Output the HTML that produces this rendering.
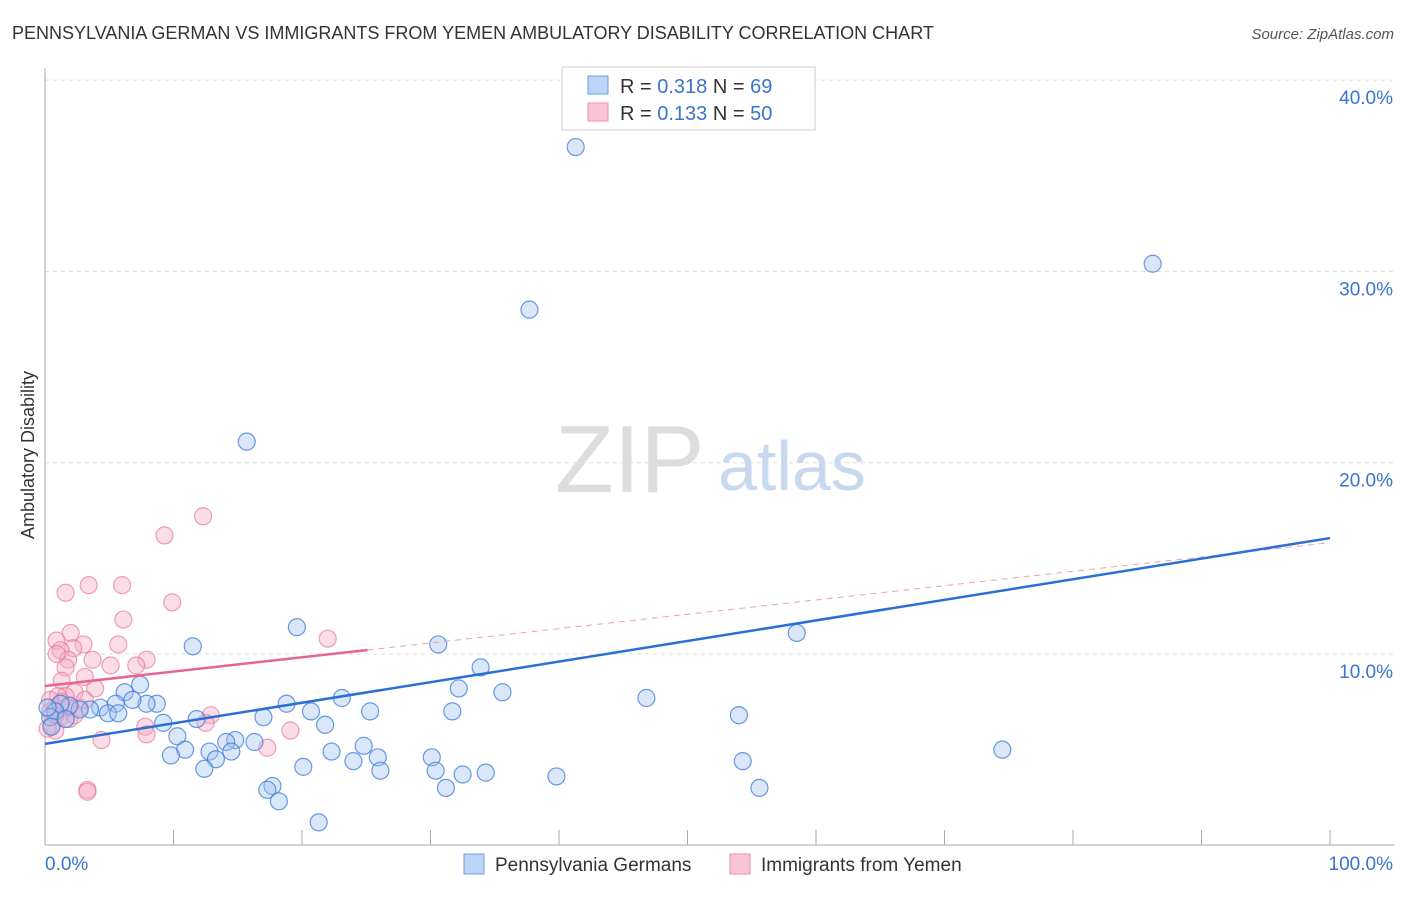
<!DOCTYPE html>
<html><head><meta charset="utf-8"><style>
body{margin:0;background:#fff;font-family:"Liberation Sans",sans-serif;}
svg text{font-family:"Liberation Sans",sans-serif;}
</style></head><body>
<svg width="1406" height="892">
<text x="12" y="39" font-size="18" fill="#333">PENNSYLVANIA GERMAN VS IMMIGRANTS FROM YEMEN AMBULATORY DISABILITY CORRELATION CHART</text>
<text x="1394" y="39" font-size="15" fill="#555" font-style="italic" text-anchor="end">Source: ZipAtlas.com</text>
<g id="grid"></g>
<g id="axes"></g>
<text x="555" y="492" font-size="96" fill="#ddd" font-family="Liberation Serif">ZIP</text>
<text x="718" y="490" font-size="70" fill="#c8d9ef">atlas</text>
<g id="pts"></g>
<g id="trend"></g>
<text transform="translate(34,455) rotate(-90)" font-size="18" fill="#333" text-anchor="middle">Ambulatory Disability</text>
<g>
<rect x="562" y="67" width="253" height="63" fill="#fff" stroke="#ccc"/>
<rect x="588" y="76" width="20" height="18" fill="#bcd4f5" stroke="#6a9be0"/>
<rect x="588" y="103" width="20" height="18" fill="#f9c5d5" stroke="#ea92b0"/>
<text x="620" y="93" font-size="20" fill="#333">R = <tspan fill="#3a73d0">0.318</tspan>   N = <tspan fill="#3a73d0">69</tspan></text>
<text x="620" y="120" font-size="20" fill="#333">R = <tspan fill="#3a73d0">0.133</tspan>   N = <tspan fill="#3a73d0">50</tspan></text>
</g>
<g>
<rect x="464" y="854" width="20" height="20" fill="#bcd4f5" stroke="#6a9be0"/>
<text x="495" y="871" font-size="19" fill="#333">Pennsylvania Germans</text>
<rect x="730" y="854" width="20" height="20" fill="#f9c5d5" stroke="#ea92b0"/>
<text x="761" y="871" font-size="19" fill="#333">Immigrants from Yemen</text>
</g>
</svg>
<script>
const yTicks=[10,20,30,40];
const blueX=[41.3,86.2,37.7,15.7,58.5,19.6,30.6,33.9,32.2,35.6,46.8,54.0,11.5,7.4,6.2,8.7,7.9,6.8,5.5,4.3,3.5,2.7,1.9,1.2,0.8,4.9,5.7,18.8,23.1,25.3,20.7,17.0,31.7,11.8,9.2,10.3,14.8,14.1,16.3,21.8,24.8,22.3,12.8,14.5,10.9,9.8,25.9,24.0,30.1,13.3,12.4,20.1,26.1,30.4,32.5,34.3,39.8,54.3,74.5,17.7,17.3,18.2,31.2,55.6,21.3,0.4,0.5,1.6,0.2];
const blueY=[36.5,30.4,28.0,21.1,11.1,11.4,10.5,9.3,8.2,8.0,7.7,6.8,10.4,8.4,8.0,7.4,7.4,7.6,7.4,7.2,7.1,7.1,7.3,7.4,7.0,6.9,6.9,7.4,7.7,7.0,7.0,6.7,7.0,6.6,6.4,5.7,5.5,5.4,5.4,6.3,5.2,4.9,4.9,4.9,5.0,4.7,4.6,4.4,4.6,4.5,4.0,4.1,3.9,3.9,3.7,3.8,3.6,4.4,5.0,3.1,2.9,2.3,3.0,3.0,1.2,6.7,6.2,6.6,7.2];
const pinkX=[12.3,9.3,3.4,6.0,1.6,9.9,6.1,2.0,22.0,0.9,3.0,5.7,2.2,1.2,1.8,7.9,7.1,5.1,1.6,3.1,1.3,3.9,2.3,1.6,0.8,0.4,1.2,1.9,0.5,0.8,0.2,12.9,12.5,7.8,7.9,19.1,4.4,17.3,3.3,3.3,1.0,2.7,1.3,2.3,0.8,0.4,1.8,3.1,0.9,3.7];
const pinkY=[17.2,16.2,13.6,13.6,13.2,12.7,11.8,11.1,10.8,10.7,10.5,10.5,10.3,10.2,9.7,9.7,9.4,9.4,9.3,8.8,8.6,8.2,8.0,7.8,7.2,7.0,6.7,6.6,6.3,6.0,6.1,6.8,6.4,6.2,5.8,6.0,5.5,5.1,2.9,2.8,7.8,7.2,7.5,6.8,6.8,7.6,7.2,7.6,10.0,9.7];
const blueTrend=[5.3,16.06];
const pinkTrend=[8.33,0.0749];
const pinkSolidEnd=25.1;
const NS="http://www.w3.org/2000/svg";
const X=v=>45+v*12.85, Y=v=>845.3-v*19.13;
function mk(t,a,p){const e=document.createElementNS(NS,t);for(const k in a)e.setAttribute(k,a[k]);p.appendChild(e);return e;}
const grid=document.getElementById('grid'),axes=document.getElementById('axes');
for(const t of yTicks){
const l=mk('line',{x1:45,x2:1394,y1:Y(t),y2:Y(t),stroke:'#ddd','stroke-dasharray':'4,4'},grid);


const tx=mk('text',{x:1393,y:Y(t)+24,'font-size':19,fill:'#3a73d0','text-anchor':'end'},axes);
tx.textContent=t.toFixed(1)+'%';


}
mk('line',{x1:45,x2:45,y1:68,y2:845,stroke:'#aaa'},axes);
mk('line',{x1:45,x2:1394,y1:845,y2:845,stroke:'#aaa'},axes);
for(let i=0;i<=10;i++){const tk=mk('line',{x1:X(i*10),x2:X(i*10),y1:830,y2:845,stroke:'#aaa'},axes);

}
const x0=mk('text',{x:45,y:870,'font-size':19,fill:'#3a73d0'},axes);x0.textContent='0.0%';


const x1=mk('text',{x:1393,y:870,'font-size':19,fill:'#3a73d0','text-anchor':'end'},axes);x1.textContent='100.0%';


const pts=document.getElementById('pts');
pinkX.forEach((v,i)=>{const c=mk('circle',{cx:X(v),cy:Y(pinkY[i]),r:8.5,fill:'rgba(246,170,195,0.4)',stroke:'rgba(232,120,160,0.7)','stroke-width':1.2},pts);

});
blueX.forEach((v,i)=>{const c=mk('circle',{cx:X(v),cy:Y(blueY[i]),r:8.5,fill:'rgba(160,195,240,0.4)',stroke:'rgba(60,120,215,0.75)','stroke-width':1.2},pts);

});
const tr=document.getElementById('trend');
const pf=x=>pinkTrend[0]+pinkTrend[1]*x;
const pd=mk('line',{x1:X(pinkSolidEnd),y1:Y(pf(pinkSolidEnd)),x2:X(100),y2:Y(pf(100)),stroke:'#e8a0b8','stroke-dasharray':'6,5','stroke-width':1},tr);


const bl=mk('line',{x1:X(0),y1:Y(blueTrend[0]),x2:X(100),y2:Y(blueTrend[1]),stroke:'#2a6fd6','stroke-width':2.5},tr);


const pl=mk('line',{x1:X(0),y1:Y(pf(0)),x2:X(pinkSolidEnd),y2:Y(pf(pinkSolidEnd)),stroke:'#e8648f','stroke-width':2.5},tr);


</script>
</body></html>
